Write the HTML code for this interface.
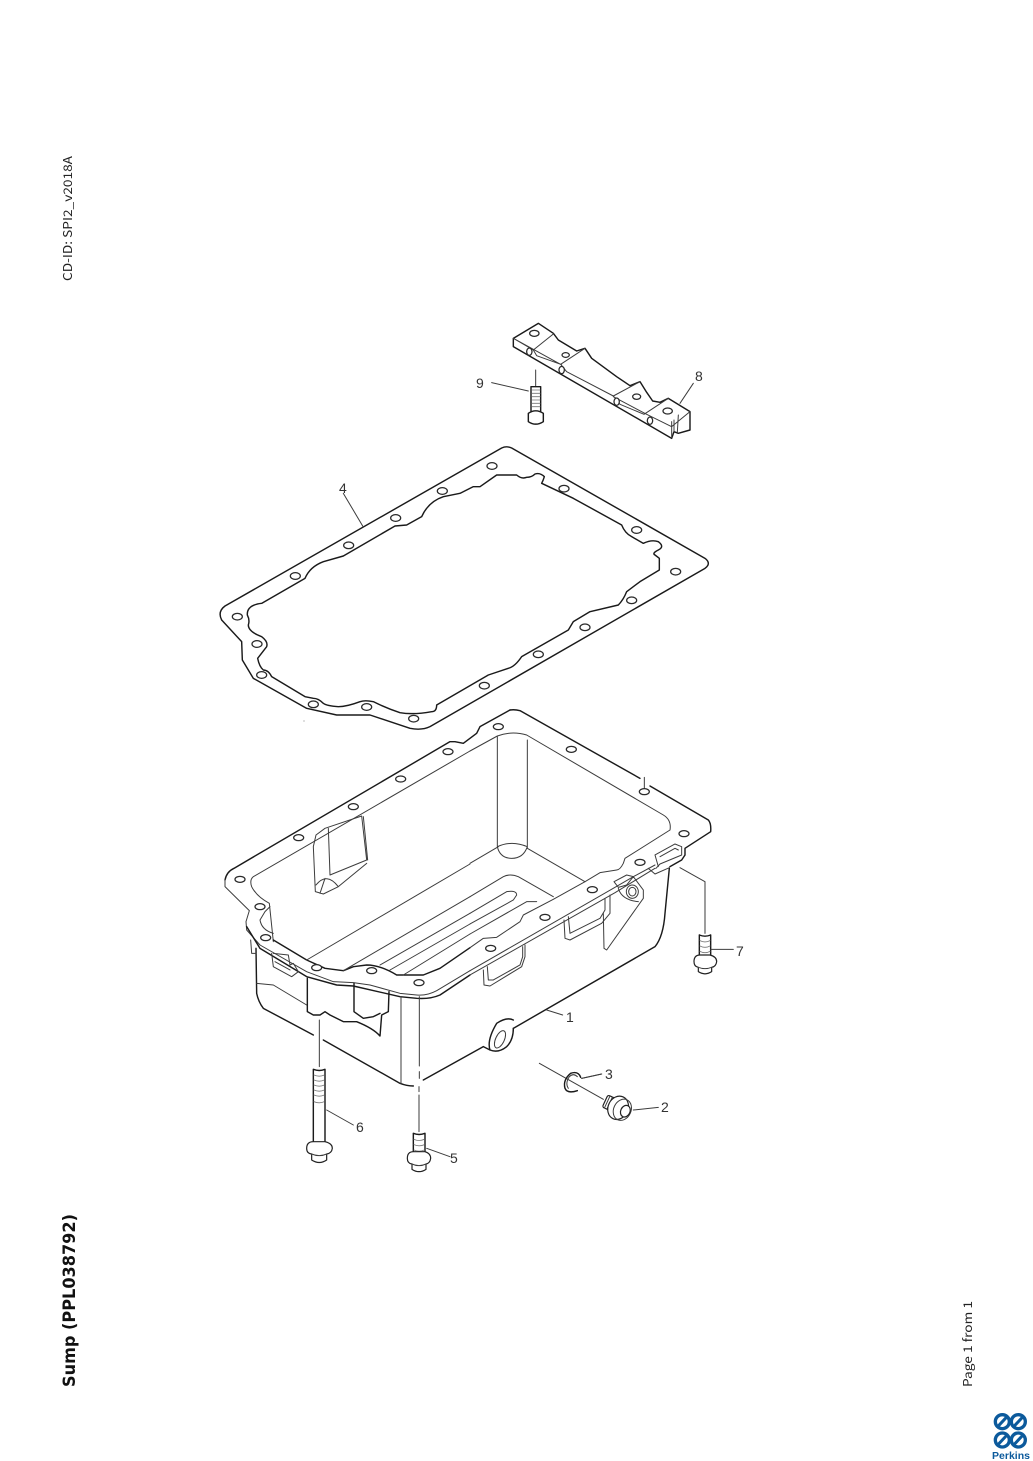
<!DOCTYPE html>
<html><head><meta charset="utf-8"><style>
html,body{margin:0;padding:0;background:#fff}
svg{display:block}
.o{fill:none;stroke:#1a1a1a;stroke-width:4.3;stroke-linejoin:round;stroke-linecap:round}
.t{fill:none;stroke:#3c3c3c;stroke-width:3;stroke-linejoin:round;stroke-linecap:round}
.r{fill:none;stroke:#777;stroke-width:2.6;stroke-linecap:round}
.h{fill:#fff;stroke:#2a2a2a;stroke-width:3.8}
.w{fill:#fff;stroke:#222;stroke-width:3.6;stroke-linejoin:round}
.l{font-family:"Liberation Sans",sans-serif;font-size:14px;fill:#333}
.s{font-family:"Noto Sans CJK JP","Liberation Sans",sans-serif;fill:#222}
</style></head><body>
<svg xmlns="http://www.w3.org/2000/svg" width="1033" height="1461" viewBox="0 0 1033 1461">
<rect width="1033" height="1461" fill="#fff"/>

<text class="s" font-size="12" transform="translate(72,281) rotate(-90)" textLength="125" lengthAdjust="spacingAndGlyphs">CD-ID: SPI2_v2018A</text>
<text font-family="'DejaVu Sans',sans-serif" fill="#111" font-size="17" font-weight="700" transform="translate(75,1387) rotate(-90)" textLength="173" lengthAdjust="spacingAndGlyphs">Sump (PPL038792)</text>
<text class="s" font-size="12" transform="translate(972,1387) rotate(-90)" textLength="86" lengthAdjust="spacingAndGlyphs">Page 1 from 1</text>

<!-- bracket (8) and bolt (9) -->
<g transform="translate(470,315) scale(.33333)">
<path class="o" d="M130 70L205 25L250 55L265 75L320 108L345 100L365 130L440 185L480 212L510 200L530 232L548 258L570 262L595 250L660 290V345L625 355L612 350L605 370L130 95Z"/>
<path class="t" d="M130 70L190 105L250 57M190 105L200 122L272 148L345 100M272 148L290 170L430 243L510 200M430 243L450 268L522 298L595 250M130 70L275 150M430 245L530 298L605 335L660 290M605 320V368M612 315L612 350M625 300L622 352"/>
<ellipse class="h" cx="193" cy="55" rx="14" ry="9"/><ellipse class="h" cx="178" cy="110" rx="8" ry="11"/><ellipse class="h" cx="275" cy="165" rx="8" ry="11"/><ellipse class="h" cx="440" cy="260" rx="8" ry="11"/><ellipse class="h" cx="540" cy="317" rx="8" ry="11"/><ellipse class="h" cx="593" cy="288" rx="14" ry="9"/><ellipse class="h" cx="287" cy="120" rx="11" ry="7"/><ellipse class="h" cx="500" cy="245" rx="12" ry="8"/>
<path class="t" d="M65 203L175 228M197 165V215"/>
<path class="o" d="M183 215V290M212 215V290M183 215H212M175 295Q197 280 220 295V320Q197 335 175 320Z"/>
<path class="r" d="M185 225H210M185 235H210M185 245H210M185 255H210M185 265H210M185 275H210"/>
<path class="t" d="M630 265L670 205"/>
</g>
<text class="l" x="476" y="388">9</text>
<text class="l" x="695" y="381">8</text>

<!-- gasket (4) -->
<g transform="translate(210,440) scale(.33333)">
<path class="o" d="M875 24Q890 17 905 24L1485 355Q1505 370 1485 385L660 860Q635 872 600 865L480 825L380 825L290 805L130 715L97 660L95 605L35 540Q22 515 45 498Z"/>
<path class="o" d="M860 105L920 105Q935 118 950 112Q965 112 975 102Q990 97 1003 110Q1000 120 995 130L1090 175L1235 255Q1245 280 1265 290L1300 310Q1325 298 1345 305Q1365 320 1345 330Q1325 340 1335 345L1348 355L1348 390L1290 425L1250 455Q1240 480 1225 495L1140 515L1090 545L1075 570L935 650Q915 680 895 685L835 705L680 795Q680 815 665 815Q610 825 570 818Q530 805 490 785Q465 780 450 785Q410 800 385 800Q350 798 340 790Q325 775 310 775L285 770L185 710Q175 690 160 690Q148 680 143 655L170 620Q175 605 155 590Q115 575 115 555Q120 540 112 525Q110 495 155 490L285 415Q300 380 340 365L400 348L555 258L590 255L635 230Q655 185 700 170L750 160L790 140L810 140Z"/>
<path class="t" d="M400 160L458 258"/>
<ellipse class="h" cx="846" cy="78" rx="15" ry="10"/><ellipse class="h" cx="697" cy="153" rx="15" ry="10"/><ellipse class="h" cx="557" cy="234" rx="15" ry="10"/><ellipse class="h" cx="416" cy="316" rx="15" ry="10"/><ellipse class="h" cx="256" cy="408" rx="15" ry="10"/><ellipse class="h" cx="82" cy="530" rx="15" ry="10"/><ellipse class="h" cx="141" cy="612" rx="15" ry="10"/><ellipse class="h" cx="155" cy="705" rx="15" ry="10"/><ellipse class="h" cx="310" cy="793" rx="15" ry="10"/><ellipse class="h" cx="470" cy="801" rx="15" ry="10"/><ellipse class="h" cx="611" cy="836" rx="15" ry="10"/><ellipse class="h" cx="823" cy="737" rx="15" ry="10"/><ellipse class="h" cx="985" cy="643" rx="15" ry="10"/><ellipse class="h" cx="1125" cy="562" rx="15" ry="10"/><ellipse class="h" cx="1265" cy="481" rx="15" ry="10"/><ellipse class="h" cx="1397" cy="395" rx="15" ry="10"/><ellipse class="h" cx="1280" cy="270" rx="15" ry="10"/><ellipse class="h" cx="1062" cy="146" rx="15" ry="10"/>
<circle cx="282" cy="843" r="1.5" fill="#555"/>
</g>
<text class="l" x="339" y="493">4</text>

<!-- sump left half, zoom 2 coordinates -->
<g transform="translate(210,700) scale(.33333)">
<path class="o" d="M45 540Q50 515 72 505L720 125L735 125L760 130L800 100L810 80L900 30"/>
<path class="t" d="M45 540L45 560L118 632L108 665L110 690L150 735L290 815L370 845L430 848L480 855L570 880L620 885Q650 888 680 872L780 812"/>
<path class="o" d="M110 680L150 745L290 830L380 855L430 858L570 890L620 895Q660 898 690 885L780 825"/>
<path class="t" d="M780 153L130 530Q118 540 125 560Q140 590 178 610L190 725M150 660L165 635L180 620M150 660Q155 690 190 700"/>
<path class="o" d="M190 720L290 780L345 805L400 812L430 800L470 795Q510 795 560 825L640 825L690 805L780 743"/>
<path class="t" d="M780 492L290 780M780 590L400 812M780 640L510 795M780 672L540 810M780 702L580 825"/>
<!-- baffle -->
<path class="t" d="M318 405L345 385L455 348L470 480L360 525L355 385M318 405L310 440L316 575L340 582L385 560L470 490M460 350L473 480M318 555Q350 515 385 560M330 580L345 535"/>
<!-- body -->
<path class="o" d="M138 745L140 880Q145 905 160 925L310 1005M340 1020L570 1150Q590 1158 610 1158M640 1140L820 1040"/>
<path class="t" d="M122 720L125 760L138 760M573 890V1150M628 890V1098M628 1115V1135M140 850L190 855L290 915"/>
<path class="o" d="M292 835V935L310 945L330 945L345 935L360 945L400 965L440 965Q490 985 510 1008L515 945L535 935L537 875M432 850V935L460 955L490 950L510 940"/>
<path class="t" d="M185 760L190 800L245 830L265 815L250 790L240 795L235 765L190 760M195 785L240 810"/>
<path class="t" d="M328 960V1100"/>
<ellipse class="h" cx="90" cy="538" rx="15" ry="9"/><ellipse class="h" cx="150" cy="620" rx="15" ry="9"/><ellipse class="h" cx="167" cy="713" rx="15" ry="9"/><ellipse class="h" cx="320" cy="803" rx="15" ry="9"/><ellipse class="h" cx="485" cy="812" rx="15" ry="9"/><ellipse class="h" cx="627" cy="848" rx="15" ry="9"/><ellipse class="h" cx="266" cy="413" rx="15" ry="9"/><ellipse class="h" cx="430" cy="320" rx="15" ry="9"/><ellipse class="h" cx="572" cy="237" rx="15" ry="9"/><ellipse class="h" cx="714" cy="155" rx="15" ry="9"/>
</g>

<!-- sump right half, zoom 3 coordinates -->
<g transform="translate(470,700) scale(.33333)">
<path class="o" d="M120 30Q135 28 150 32L510 235M540 258L715 360Q724 370 722 395L645 445L645 465L635 480L600 500"/>
<path class="t" d="M0 153L82 108Q125 92 170 105L580 345Q605 360 600 390L465 475L460 490Q450 510 440 510L390 518L345 545L250 598L160 645L150 665L80 712L40 715L0 743"/>
<path class="t" d="M82 110V440M172 120V445M82 440Q90 475 125 475Q160 475 172 440M82 440Q125 420 172 440M85 440L0 490M172 445L345 545M0 590L100 530Q120 520 145 530L250 590M0 640L110 575Q140 570 140 585L130 600L0 672M0 702L170 605L200 605"/>
<path class="t" d="M0 812L435 562L490 530L555 495M0 825L435 578L555 505"/>
<path class="t" d="M555 465L615 432L635 440L635 465L570 492L558 505M555 465L565 500M535 505L555 522L598 503M570 470L615 445L625 450"/>
<path class="o" d="M598 505L585 640Q580 710 555 740L130 985"/>
<path class="o" d="M130 985Q130 1020 110 1040Q85 1060 60 1050L40 1040M60 1050Q50 1020 80 970Q110 950 130 960"/>
<ellipse class="t" cx="90" cy="1018" rx="13" ry="28" transform="rotate(25 90 1018)"/>
<path class="t" d="M230 930L278 945"/>
<path class="t" d="M40 810L42 855L60 858L155 800L165 770L165 735M52 800L55 840L70 840L150 795L158 770L158 740M282 660L285 715L300 720L395 670L420 640L420 585M295 650L300 700L390 655L405 630L405 595"/>
<path class="t" d="M400 640L402 745L410 750L520 595L520 570L490 530M432 545L470 525L490 530L470 555L445 562ZM445 565Q455 600 505 605"/>
<ellipse class="t" cx="487" cy="575" rx="18" ry="20"/>
<ellipse class="t" cx="487" cy="575" rx="11" ry="13"/>
<path class="t" d="M523 232V265M630 503L705 545V700"/>
<ellipse class="h" cx="62" cy="745" rx="15" ry="9"/><ellipse class="h" cx="85" cy="80" rx="15" ry="9"/><ellipse class="h" cx="304" cy="148" rx="15" ry="9"/><ellipse class="h" cx="523" cy="275" rx="15" ry="9"/><ellipse class="h" cx="642" cy="401" rx="15" ry="9"/><ellipse class="h" cx="510" cy="487" rx="15" ry="9"/><ellipse class="h" cx="367" cy="569" rx="15" ry="9"/><ellipse class="h" cx="225" cy="652" rx="15" ry="9"/>
<!-- bolt 7 -->
<path class="o" d="M688 705V770M722 705V770M688 705Q705 712 722 705"/>
<path class="r" d="M690 722Q705 730 720 722M690 738Q705 746 720 738M690 754Q705 762 720 754"/>
<path class="w" d="M672 785Q672 765 690 765L720 765Q740 770 740 785Q738 800 725 802L725 815Q705 828 685 815L685 802Q672 800 672 785Z"/>
<path class="t" d="M685 802Q705 810 725 802M722 748L790 748"/>
<!-- ring leader -->
<path class="t" d="M208 1090L400 1198M335 1135L395 1122"/>
<path class="o" d="M332 1132Q325 1112 302 1120Q278 1140 285 1165Q292 1182 322 1172"/>
<path class="t" d="M322 1130Q310 1118 298 1130Q285 1150 295 1165"/>
</g>
<text class="l" x="566" y="1022">1</text>
<text class="l" x="605" y="1079">3</text>
<text class="l" x="736" y="956">7</text>

<!-- lower hardware, zoom 5 coordinates -->
<g transform="translate(290,1050) scale(.33333)">
<path class="o" d="M70 58V275M105 58V275M70 58Q88 65 105 58"/>
<path class="r" d="M72 75Q88 82 103 75M72 90Q88 97 103 90M72 105Q88 112 103 105M72 120Q88 127 103 120M72 135Q88 142 103 135M72 155Q88 162 103 155"/>
<path class="t" d="M110 180L190 225"/>
<path class="w" d="M50 295Q50 275 70 275L105 275Q127 280 127 295Q125 310 110 312L110 330Q88 345 65 330L65 312Q50 310 50 295Z"/>
<path class="t" d="M65 312Q88 322 110 312"/>
<path class="o" d="M370 250V305M405 250V305M370 250Q387 257 405 250"/>
<path class="r" d="M372 268Q387 275 403 268M372 284Q387 291 403 284M372 300Q387 307 403 300"/>
<path class="t" d="M387 110V125M387 135V245M410 295L480 320M875 85L935 72M1030 180L1105 172"/>
<path class="w" d="M352 325Q352 305 370 305L405 305Q422 310 422 325Q420 340 408 342L408 358Q387 372 366 358L366 342Q352 340 352 325Z"/>
<path class="t" d="M366 342Q387 352 408 342"/>
<!-- plug 2 -->
<g transform="rotate(25 980 178)">
<rect class="w" x="938" y="150" width="38" height="40" rx="6"/>
<path class="t" d="M945 150V190M953 150V190M961 150V190"/>
<ellipse class="w" cx="982" cy="172" rx="30" ry="36"/>
<ellipse class="t" cx="996" cy="172" rx="26" ry="33"/>
<ellipse class="w" cx="1006" cy="172" rx="14" ry="18"/>
</g>
</g>
<text class="l" x="661" y="1112">2</text>
<text class="l" x="356" y="1132">6</text>
<text class="l" x="450" y="1163">5</text>

<!-- logo, zoom 6 coordinates -->
<g transform="translate(950,1290) scale(.33333)" fill="none" stroke="#0c5a9c" stroke-width="10">
<circle cx="157" cy="395" r="21"/><circle cx="205" cy="395" r="21"/><circle cx="157" cy="450" r="21"/><circle cx="205" cy="450" r="21"/>
<path d="M143 410L171 380M191 410L219 380M143 465L171 435M191 465L219 435" stroke-width="9"/>
</g>
<text x="992" y="1459" font-family="'Liberation Sans',sans-serif" font-weight="700" font-size="10.5" fill="#0c5a9c" textLength="38" lengthAdjust="spacingAndGlyphs">Perkins</text>
</svg>
</body></html>
